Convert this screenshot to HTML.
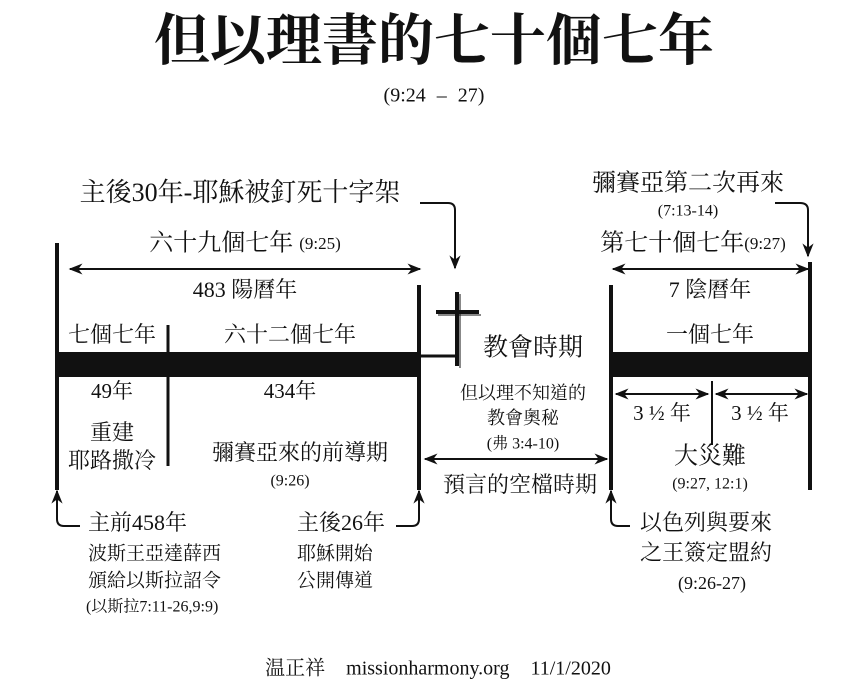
<!DOCTYPE html>
<html><head><meta charset="utf-8"><style>
html,body{margin:0;padding:0;background:#fff}
svg{display:block}
text{font-family:"Liberation Serif","Noto Serif CJK TC","Noto Serif CJK SC",serif;fill:#111;dominant-baseline:middle}
</style></head><body>
<svg width="868" height="698" viewBox="0 0 868 698" xmlns="http://www.w3.org/2000/svg">
<defs>
<marker id="a" viewBox="0 0 10 10" refX="9" refY="5" markerWidth="7" markerHeight="7" orient="auto-start-reverse"><path d="M0,1 L10,5 L0,9 L3,5 z" fill="#111"/></marker>
</defs>
<text x="434" y="47" font-size="56" font-weight="bold" text-anchor="middle">但以理書的七十個七年</text>
<text x="434" y="97" font-size="20" text-anchor="middle" word-spacing="6">(9:24 – 27)</text>

<g stroke="#111" fill="none">
<line x1="57" y1="243" x2="57" y2="490" stroke-width="4"/>
<line x1="168" y1="325" x2="168" y2="466" stroke-width="3"/>
<line x1="419" y1="285" x2="419" y2="490" stroke-width="4"/>
<line x1="611" y1="285" x2="611" y2="490" stroke-width="4"/>
<line x1="810" y1="262" x2="810" y2="490" stroke-width="4"/>
<line x1="712" y1="381" x2="712" y2="445" stroke-width="2"/>
<line x1="419" y1="356" x2="455" y2="356" stroke-width="3"/>
<line x1="457" y1="292" x2="457" y2="366" stroke-width="4"/>
<line x1="460" y1="294" x2="460" y2="368" stroke-width="1"/>
<line x1="436" y1="312" x2="479" y2="312" stroke-width="4"/>
<line x1="438" y1="315" x2="481" y2="315" stroke-width="1"/>
<g stroke-width="2" marker-start="url(#a)" marker-end="url(#a)">
<line x1="70" y1="269" x2="420" y2="269"/>
<line x1="613" y1="269" x2="808" y2="269"/>
<line x1="616" y1="394" x2="708" y2="394"/>
<line x1="716" y1="394" x2="807" y2="394"/>
<line x1="425" y1="459" x2="607" y2="459"/>
</g>
<g stroke-width="2" marker-end="url(#a)">
<path d="M420,203 H448 Q455,203 455,210 V268"/>
<path d="M775,203 H800 Q808,203 808,210 V256"/>
<path d="M80,526 H64 Q57,526 57,519 V491"/>
<path d="M396,526 H412 Q419,526 419,519 V491"/>
<path d="M630,526 H618 Q611,526 611,519 V491"/>
</g>
</g>
<rect x="57" y="352" width="362" height="25" fill="#111"/>
<rect x="611" y="352" width="199" height="25" fill="#111"/>

<text x="240" y="195" font-size="26" text-anchor="middle">主後30年-耶穌被釘死十字架</text>
<text x="245" y="245" font-size="24" text-anchor="middle">六十九個七年 <tspan font-size="17">(9:25)</tspan></text>
<text x="245" y="292" font-size="22" text-anchor="middle">483 陽曆年</text>
<text x="112" y="337" font-size="22" text-anchor="middle">七個七年</text>
<text x="290" y="337" font-size="22" text-anchor="middle">六十二個七年</text>
<text x="112" y="393" font-size="21" text-anchor="middle">49年</text>
<text x="290" y="393" font-size="21" text-anchor="middle">434年</text>
<text x="112" y="435" font-size="22" text-anchor="middle">重建</text>
<text x="112" y="463" font-size="22" text-anchor="middle">耶路撒冷</text>
<text x="300" y="455" font-size="22" text-anchor="middle">彌賽亞來的前導期</text>
<text x="290" y="482" font-size="16" text-anchor="middle">(9:26)</text>
<text x="533" y="350" font-size="25" text-anchor="middle">教會時期</text>
<text x="523" y="395" font-size="18" text-anchor="middle">但以理不知道的</text>
<text x="523" y="420" font-size="18" text-anchor="middle">教會奧秘</text>
<text x="523" y="445" font-size="16" text-anchor="middle">(弗 3:4-10)</text>
<text x="520" y="487" font-size="22" text-anchor="middle">預言的空檔時期</text>
<text x="688" y="185" font-size="24" text-anchor="middle">彌賽亞第二次再來</text>
<text x="688" y="212" font-size="16" text-anchor="middle">(7:13-14)</text>
<text x="693" y="245" font-size="24" text-anchor="middle">第七十個七年<tspan font-size="17">(9:27)</tspan></text>
<text x="710" y="292" font-size="22" text-anchor="middle">7 陰曆年</text>
<text x="710" y="337" font-size="22" text-anchor="middle">一個七年</text>
<text x="662" y="415" font-size="21" text-anchor="middle">3 ½ 年</text>
<text x="760" y="415" font-size="21" text-anchor="middle">3 ½ 年</text>
<text x="710" y="458" font-size="24" text-anchor="middle">大災難</text>
<text x="710" y="485" font-size="16" text-anchor="middle">(9:27, 12:1)</text>
<text x="88" y="525" font-size="22">主前458年</text>
<text x="88" y="555" font-size="19">波斯王亞達薛西</text>
<text x="88" y="582" font-size="19">頒給以斯拉詔令</text>
<text x="86" y="608" font-size="16">(以斯拉7:11-26,9:9)</text>
<text x="297" y="525" font-size="22">主後26年</text>
<text x="297" y="555" font-size="19">耶穌開始</text>
<text x="297" y="582" font-size="19">公開傳道</text>
<text x="640" y="525" font-size="22">以色列與要來</text>
<text x="640" y="555" font-size="22">之王簽定盟約</text>
<text x="712" y="585" font-size="18" text-anchor="middle">(9:26-27)</text>
<text x="438" y="670" font-size="20" text-anchor="middle" word-spacing="16">温正祥 missionharmony.org 11/1/2020</text>
</svg>
</body></html>
